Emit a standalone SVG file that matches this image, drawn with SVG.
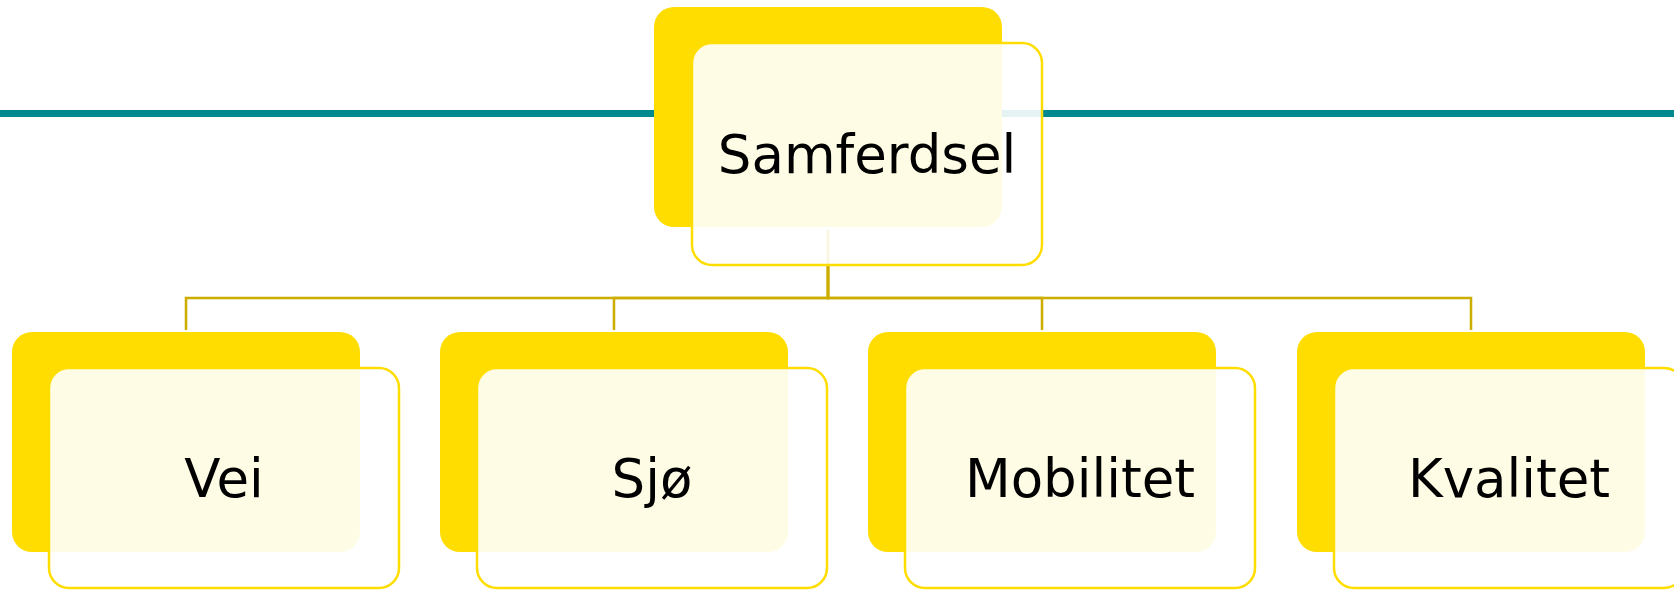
<svg xmlns="http://www.w3.org/2000/svg" width="1674" height="590" viewBox="0 0 1674 590">
<style>
.back{fill:#FFDD00;}
.front{fill:#FFFFFF;fill-opacity:0.9;stroke:#FFDD00;stroke-width:2.5;}
.lbl{font-family:"DejaVu Sans",Verdana,sans-serif;font-size:53px;fill:#000000;text-anchor:middle;}
.conn{fill:none;stroke:#CCAD00;stroke-width:2.5;}
</style>
<rect x="0" y="110" width="1674" height="7" fill="#00898E"/>
<g id="connectors">
<path class="conn" d="M828,230 V298 H186 V330"/>
<path class="conn" d="M828,230 V298 H614 V330"/>
<path class="conn" d="M828,230 V298 H1042 V330"/>
<path class="conn" d="M828,230 V298 H1471 V330"/>
</g>
<g id="samferdsel">
<rect class="back" x="654" y="7" width="348" height="220" rx="20"/>
<rect class="front" x="692" y="43" width="350" height="222" rx="20"/>
<text class="lbl" x="867" y="173">Samferdsel</text>
</g>
<g id="vei">
<rect class="back" x="12" y="332" width="348" height="220" rx="20"/>
<rect class="front" x="49" y="368" width="350" height="220" rx="20"/>
<text class="lbl" x="224" y="497">Vei</text>
</g>
<g id="sjo">
<rect class="back" x="440" y="332" width="348" height="220" rx="20"/>
<rect class="front" x="477" y="368" width="350" height="220" rx="20"/>
<text class="lbl" x="652" y="497">Sjø</text>
</g>
<g id="mobilitet">
<rect class="back" x="868" y="332" width="348" height="220" rx="20"/>
<rect class="front" x="905" y="368" width="350" height="220" rx="20"/>
<text class="lbl" x="1080" y="497">Mobilitet</text>
</g>
<g id="kvalitet">
<rect class="back" x="1297" y="332" width="348" height="220" rx="20"/>
<rect class="front" x="1334" y="368" width="350" height="220" rx="20"/>
<text class="lbl" x="1509" y="497">Kvalitet</text>
</g>
</svg>
